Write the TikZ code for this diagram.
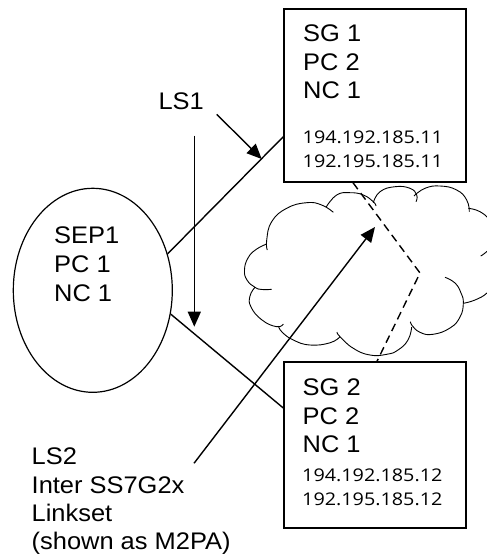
\documentclass[tikz,border=0pt]{standalone}
\usepackage{fontspec}
\setmainfont{Liberation Sans}[FakeStretch=1.06]
\newfontfamily\ipfont{Open Sans}[FakeStretch=1.13]
\usetikzlibrary{shapes.geometric,arrows.meta}
\begin{document}
\begin{tikzpicture}[x=1pt,y=-1pt,
  lbl/.style={anchor=north west, inner sep=0pt, align=left, font=\fontsize{24}{28.4}\selectfont},
  iplbl/.style={anchor=north west, inner sep=0pt, align=left, font=\ipfont\fontsize{17.5}{24}\selectfont},
  box/.style={draw, line width=1.4pt, minimum width=182pt, inner sep=0pt},
  conn/.style={line width=1.4pt},
  arr/.style={line width=1.4pt, -{Triangle[length=15pt,width=13pt]}},
  cloudline/.style={line width=0.9pt},
  dsh/.style={line width=1.4pt, dash pattern=on 8pt off 5pt}]
\useasboundingbox[fill=white] (0,0) rectangle (487,557);

% cloud
\begin{scope}
\clip (0,0) rectangle (487,557);
\draw[cloudline] plot[smooth, tension=0.8] coordinates {(271.7,289.3) (262,289.5) (255,287.3) (247,280) (244.5,270) (248,258) (256,249.5) (266.7,244)};
\draw[cloudline] plot[smooth, tension=0.8] coordinates {(267.3,250) (266.7,240) (271.7,221.7) (286.7,208.3) (306.7,202.7) (321.7,205) (333.3,212.3)};
\draw[cloudline] plot[smooth, tension=0.8] coordinates {(326,207.3) (336.7,195) (350,192.7) (363.3,195) (373.3,201.7) (376,206)};
\draw[cloudline] plot[smooth, tension=0.8] coordinates {(373.3,202.7) (380,191.7) (395,186.7) (410,188.3) (416.7,195) (416,201.7)};
\draw[cloudline] plot[smooth, tension=0.8] coordinates {(414,196) (425,188.3) (440,186) (456.7,190) (466.7,200) (469.3,211.7)};
\draw[cloudline] plot[smooth, tension=0.8] coordinates {(468.3,208.3) (480,211.7) (490,221) (495,235) (490,248) (480.7,256)};
\draw[cloudline] plot[smooth, tension=0.8] coordinates {(463.3,303.3) (475,300) (487,293) (494,283)};
\draw[cloudline] plot[smooth, tension=0.8] coordinates {(445,277.3) (455,283) (461,293) (463.3,303.3) (460,317) (450,328) (433,334.3) (420,332.3) (411.7,325) (410.7,321.7)};
\draw[cloudline] plot[smooth, tension=0.8] coordinates {(411.7,327) (408,340) (398,350) (386.7,354.3) (370,355) (353.3,348.3) (340,336.7) (337,332)};
\draw[cloudline] plot[smooth, tension=0.8] coordinates {(340,336.7) (330,342.8) (310,345) (293.3,340) (282,332) (278.5,326)};
\draw[cloudline] plot[smooth, tension=0.8] coordinates {(283.3,324) (276.7,326.7) (262,320) (251,307) (250,296) (255,287.3)};
\end{scope}

% nodes
\node[box, minimum height=173pt] (sg1) at (375,95.5) {};
\node[box, minimum height=166pt] (sg2) at (375,445) {};
\node[draw, ellipse, line width=1.2pt, minimum width=159pt, minimum height=204pt, inner sep=0pt] (sep) at (92.8,290.3) {};

\node[lbl] (sg1t) at (303,24.8) {SG 1\\PC 2\\NC 1};
\node[iplbl] (sg1ip) at (302.5,130.5) {194.192.185.11\\192.195.185.11};
\node[lbl] (sg2t) at (302.5,378.7) {SG 2\\PC 2\\NC 1};
\node[iplbl] (sg2ip) at (302,468.5) {194.192.185.12\\192.195.185.12};
\node[lbl, font=\fontsize{24}{29}\selectfont] (sept) at (54,226.2) {SEP1\\PC 1\\NC 1};
\node[lbl] (ls1) at (158.3,92.8) {LS1};
\node[lbl] (ls2) at (31.5,447.7) {LS2\\Inter SS7G2x\\Linkset\\(shown as M2PA)};

% connectors
\draw[conn] (sep.26.3) -- ([yshift=-41.2pt]sg1.west);
\draw[conn] (sep.-17.9) -- ([yshift=37pt]sg2.west);

\coordinate (v1) at (194.3,135.7);
\coordinate (v2) at (194.3,326.7);
\draw[arr] (v1) -- (v2);

\coordinate (a1) at (216.7,114.3);
\coordinate (a2) at (261.7,159);
\draw[arr] (a1) -- (a2);

\coordinate (b1) at (194,463.3);
\coordinate (b2) at (375,227);
\draw[arr] (b1) -- (b2);

\coordinate (d1) at (420,273);
\draw[dsh] ([xshift=-22pt]sg1.south) -- (d1) -- ([xshift=2pt]sg2.north);
\end{tikzpicture}
\end{document}
